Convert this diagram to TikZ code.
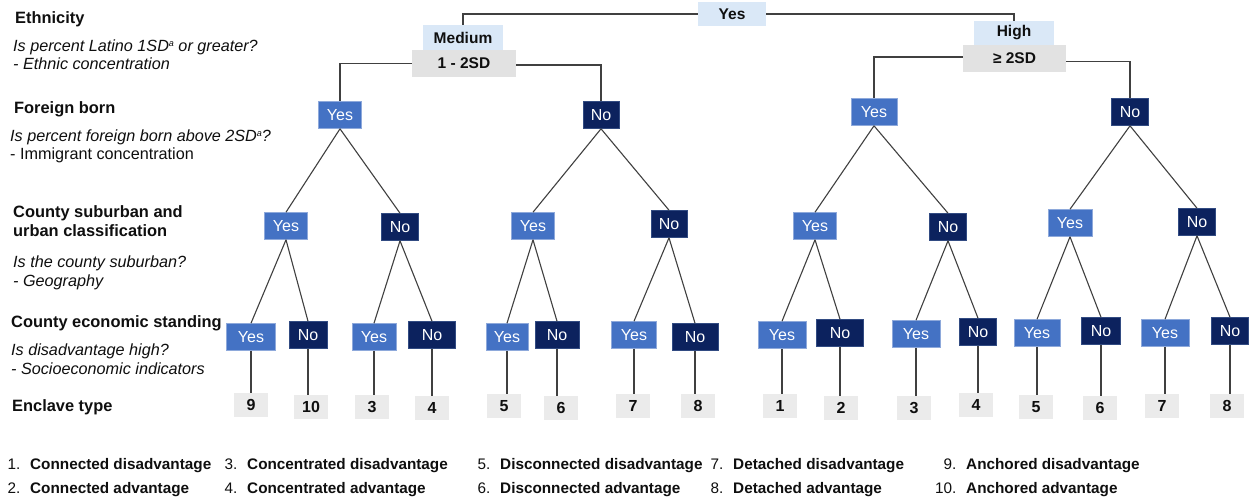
\documentclass[tikz,border=0pt]{standalone}
\usepackage{fontspec}
\setmainfont{Liberation Sans}
\definecolor{yesblue}{RGB}{68,114,196}
\definecolor{yesedge}{RGB}{142,169,219}
\definecolor{nonavy}{RGB}{12,34,94}
\definecolor{noedge}{RGB}{50,75,130}
\definecolor{leafgray}{RGB}{235,235,235}
\definecolor{topblue}{RGB}{218,232,247}
\definecolor{topgray}{RGB}{226,226,226}
\definecolor{linegray}{RGB}{64,64,64}
\definecolor{txt}{RGB}{15,15,15}
\newcommand{\supa}{\raisebox{0.55ex}{\fontsize{9}{9}\selectfont a}}
\begin{document}
\begin{tikzpicture}[x=1pt,y=-1pt,
  conn/.style={draw=linegray, line width=1.1pt},
  yesbox/.style={fill=yesblue, draw=yesedge, line width=0.6pt, text=white, minimum height=27pt, inner sep=0pt, font=\fontsize{16}{16}\selectfont},
  nobox/.style={fill=nonavy, draw=noedge, line width=0.6pt, text=white, minimum height=27pt, inner sep=0pt, font=\fontsize{16}{16}\selectfont},
  leafbox/.style={fill=leafgray, minimum width=34pt, minimum height=24pt, inner sep=0pt, text=txt, font=\bfseries\fontsize{16}{16}\selectfont},
  topbox/.style={fill=topblue, inner sep=0pt, text=txt, font=\bfseries\fontsize{15.5}{15.5}\selectfont},
  sdbox/.style={fill=topgray, inner sep=0pt, text=txt, font=\bfseries\fontsize{15.5}{15.5}\selectfont},
  head/.style={anchor=base west, inner sep=0pt, text=txt, font=\bfseries\fontsize{16.4}{16.4}\selectfont},
  ques/.style={anchor=base west, inner sep=0pt, text=txt, font=\itshape\fontsize{16.2}{16.2}\selectfont},
  plain/.style={anchor=base west, inner sep=0pt, text=txt, font=\fontsize{16.2}{16.2}\selectfont},
  lnum/.style={anchor=base east, inner sep=0pt, text=txt, font=\fontsize{15.3}{15.3}\selectfont},
  ltxt/.style={anchor=base west, inner sep=0pt, text=txt, font=\bfseries\fontsize{15.3}{15.3}\selectfont}
]
\useasboundingbox[fill=white] (0,0) rectangle (1249,498);

% left labels
\node[head] (hEth) at (15,23) {Ethnicity};
\node[ques] (qEth1) at (13,51) {Is percent Latino 1SD\supa{} or greater?};
\node[ques] (qEth2) at (13,69) {- Ethnic concentration};
\node[head] (hFor) at (14,113) {Foreign born};
\node[ques] (qFor1) at (10,141) {Is percent foreign born above 2SD\supa?};
\node[plain] (qFor2) at (10,159) {- Immigrant concentration};
\node[head] (hSub1) at (13,217) {County suburban and};
\node[head] (hSub2) at (13,236) {urban classification};
\node[ques] (qSub1) at (13,267) {Is the county suburban?};
\node[ques] (qSub2) at (13,286) {- Geography};
\node[head] (hEco) at (11,327) {County economic standing};
\node[ques] (qEco1) at (11,355) {Is disadvantage high?};
\node[ques] (qEco2) at (11,374) {- Socioeconomic indicators};
\node[head] (hEnc) at (12,411) {Enclave type};

% top
\node[topbox, minimum width=68pt, minimum height=24pt] (top) at (732,14) {Yes};
\node[sdbox, minimum width=104pt, minimum height=27pt] (sd1) at (464,63.5) {1 - 2SD};
\node[topbox, minimum width=80pt, minimum height=25pt] (med) at (463,37.5) {Medium};
\node[sdbox, minimum width=103pt, minimum height=27pt] (sd2) at (1014.5,58.5) {≥ 2SD};
\node[topbox, minimum width=80pt, minimum height=24pt] (high) at (1014,33) {High};

% level 1
\node[yesbox, minimum width=43pt] (y1) at (340,115) {Yes};
\node[nobox, minimum width=36pt] (n1) at (601,115) {No};
\node[yesbox, minimum width=46pt] (y2) at (874,112) {Yes};
\node[nobox, minimum width=37pt] (n2) at (1130,112) {No};

% level 2
\node[yesbox, minimum width=43pt] (a1) at (286,226) {Yes};
\node[nobox, minimum width=37pt] (a2) at (400,227) {No};
\node[yesbox, minimum width=43pt] (a3) at (533,226) {Yes};
\node[nobox, minimum width=36pt] (a4) at (669,224) {No};
\node[yesbox, minimum width=43pt] (a5) at (815,226) {Yes};
\node[nobox, minimum width=37pt] (a6) at (948,227) {No};
\node[yesbox, minimum width=44pt] (a7) at (1070,223) {Yes};
\node[nobox, minimum width=37pt] (a8) at (1197,222) {No};

% level 3
\node[yesbox, minimum width=49pt] (b1) at (251,337) {Yes};
\node[nobox, minimum width=38pt] (b2) at (308,335) {No};
\node[yesbox, minimum width=44pt] (b3) at (374,337) {Yes};
\node[nobox, minimum width=47pt] (b4) at (432,335) {No};
\node[yesbox, minimum width=42pt] (b5) at (507,337) {Yes};
\node[nobox, minimum width=44pt] (b6) at (557,335) {No};
\node[yesbox, minimum width=45pt] (b7) at (634,335) {Yes};
\node[nobox, minimum width=46pt] (b8) at (695,337) {No};
\node[yesbox, minimum width=48pt] (b9) at (782,335) {Yes};
\node[nobox, minimum width=47pt] (b10) at (840,333) {No};
\node[yesbox, minimum width=48pt] (b11) at (916,334) {Yes};
\node[nobox, minimum width=37pt] (b12) at (978,332) {No};
\node[yesbox, minimum width=46pt] (b13) at (1037,333) {Yes};
\node[nobox, minimum width=39pt] (b14) at (1101,331) {No};
\node[yesbox, minimum width=48pt] (b15) at (1165,333) {Yes};
\node[nobox, minimum width=37pt] (b16) at (1230,331) {No};

% leaves
\node[leafbox] (l1) at (251,405) {9};
\node[leafbox] (l2) at (311,407) {10};
\node[leafbox] (l3) at (372,407) {3};
\node[leafbox] (l4) at (432,408) {4};
\node[leafbox] (l5) at (504,406) {5};
\node[leafbox] (l6) at (561,408) {6};
\node[leafbox] (l7) at (633,406) {7};
\node[leafbox] (l8) at (698,406) {8};
\node[leafbox] (l9) at (780,406) {1};
\node[leafbox] (l10) at (841,408) {2};
\node[leafbox] (l11) at (914,408) {3};
\node[leafbox] (l12) at (976,405) {4};
\node[leafbox] (l13) at (1036,407) {5};
\node[leafbox] (l14) at (1100,408) {6};
\node[leafbox] (l15) at (1162,406) {7};
\node[leafbox] (l16) at (1227,406) {8};

% connectors top
\draw[conn] (top.west) -| (med.north);
\draw[conn] (top.east) -| (high.north);
\draw[conn] (sd1.west) -| (y1.north);
\draw[conn] ([yshift=-1.5pt]sd1.east) -| (n1.north);
\draw[conn] ([yshift=1.5pt]sd2.west) -| (y2.north);
\draw[conn] ([yshift=-3pt]sd2.east) -| (n2.north);

% level 1 -> 2
\draw[conn] (y1.south) -- (a1.north);
\draw[conn] (y1.south) -- (a2.north);
\draw[conn] (n1.south) -- (a3.north);
\draw[conn] (n1.south) -- (a4.north);
\draw[conn] (y2.south) -- (a5.north);
\draw[conn] (y2.south) -- (a6.north);
\draw[conn] (n2.south) -- (a7.north);
\draw[conn] (n2.south) -- (a8.north);

% level 2 -> 3
\draw[conn] (a1.south) -- (b1.north);
\draw[conn] (a1.south) -- (b2.north);
\draw[conn] (a2.south) -- (b3.north);
\draw[conn] (a2.south) -- (b4.north);
\draw[conn] (a3.south) -- (b5.north);
\draw[conn] (a3.south) -- (b6.north);
\draw[conn] (a4.south) -- (b7.north);
\draw[conn] (a4.south) -- (b8.north);
\draw[conn] (a5.south) -- (b9.north);
\draw[conn] (a5.south) -- (b10.north);
\draw[conn] (a6.south) -- (b11.north);
\draw[conn] (a6.south) -- (b12.north);
\draw[conn] (a7.south) -- (b13.north);
\draw[conn] (a7.south) -- (b14.north);
\draw[conn] (a8.south) -- (b15.north);
\draw[conn] (a8.south) -- (b16.north);

% level 3 -> leaves
\foreach \i in {1,...,16} {
  \draw[conn] (b\i.south) -- (b\i.south |- l\i.north);
}

% legend
\node[lnum] (n1a) at (20.5,469) {1.};
\node[ltxt] (t1a) at (30,469) {Connected disadvantage};
\node[lnum] (n2a) at (20.5,493) {2.};
\node[ltxt] (t2a) at (30,493) {Connected advantage};
\node[lnum] (n3a) at (237.5,469) {3.};
\node[ltxt] (t3a) at (247,469) {Concentrated disadvantage};
\node[lnum] (n4a) at (237.5,493) {4.};
\node[ltxt] (t4a) at (247,493) {Concentrated advantage};
\node[lnum] (n5a) at (490.5,469) {5.};
\node[ltxt] (t5a) at (500,469) {Disconnected disadvantage};
\node[lnum] (n6a) at (490.5,493) {6.};
\node[ltxt] (t6a) at (500,493) {Disconnected advantage};
\node[lnum] (n7a) at (723.5,469) {7.};
\node[ltxt] (t7a) at (733,469) {Detached disadvantage};
\node[lnum] (n8a) at (723.5,493) {8.};
\node[ltxt] (t8a) at (733,493) {Detached advantage};
\node[lnum] (n9a) at (956.5,469) {9.};
\node[ltxt] (t9a) at (966,469) {Anchored disadvantage};
\node[lnum] (n10a) at (956.5,493) {10.};
\node[ltxt] (t10a) at (966,493) {Anchored advantage};
\end{tikzpicture}
\end{document}
